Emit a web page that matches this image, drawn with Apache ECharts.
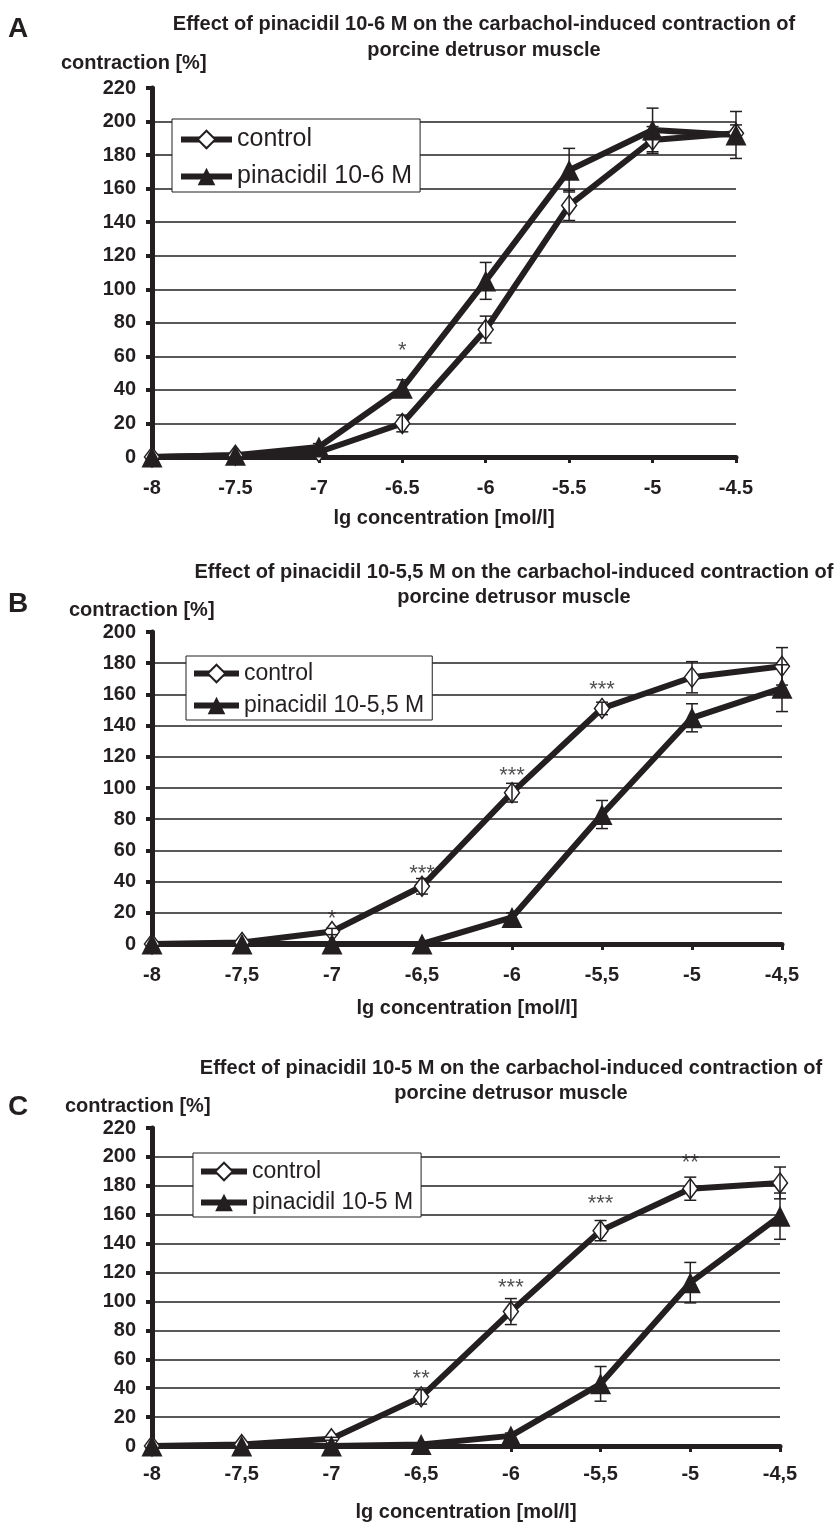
<!DOCTYPE html>
<html>
<head>
<meta charset="utf-8">
<script src="https://cdn.jsdelivr.net/npm/echarts@6/dist/echarts.min.js"></script>
<style>
  html, body { margin: 0; padding: 0; background: #fff; }
  #main { width: 834px; height: 1523px; }
</style>
</head>
<body>
<div id="main"></div>
<script>
// x categories (lg concentration)
const catsA = ["-8", "-7.5", "-7", "-6.5", "-6", "-5.5", "-5", "-4.5"];
const catsBC = ["-8", "-7,5", "-7", "-6,5", "-6", "-5,5", "-5", "-4,5"];

// panel A: pinacidil 10-6 M
const ctrlA = [0, 1, 3, 20, 76, 150, 189, 193];
const pinA = [0, 1, 6, 41, 105, 171, 195, 192];
const ctrlErrA = [0, 0, 1, 5, 8, 9, 8, 5];
const pinErrA = [0, 0, 2, 5, 11, 13, 13, 14];
const starsA = [[3, 66, "*"]];

// panel B: pinacidil 10-5,5 M
const ctrlB = [0, 1, 8, 37, 97, 151, 171, 178];
const pinB = [0, 0, 0, 0, 17, 83, 145, 164];
const ctrlErrB = [0, 0, 2, 5, 6, 4, 10, 12];
const pinErrB = [0, 0, 0, 0, 3, 9, 9, 15];
const starsB = [[2, 19, "*"], [3, 48, "***"], [4, 111, "***"], [5, 166, "***"]];

// panel C: pinacidil 10-5 M
const ctrlC = [0, 1, 5, 34, 93, 149, 178, 182];
const pinC = [0, 0, 0, 1, 7, 43, 113, 159];
const ctrlErrC = [0, 0, 1, 5, 9, 7, 8, 11];
const pinErrC = [0, 0, 0, 0, 2, 12, 14, 16];
const starsC = [[3, 50, "**"], [4, 113, "***"], [5, 171, "***"], [6, 199, "**"]];

const ink = "#231f20";
const font = "Liberation Sans";

function errorBar(params, api) {
  const x = api.value(0), y = api.value(1), e = api.value(2);
  if (!e) return null;
  const hi = api.coord([x, y + e]);
  const lo = api.coord([x, y - e]);
  const w = 6;
  const st = { stroke: ink, lineWidth: 1.5 };
  return {
    type: "group",
    children: [
      { type: "line", shape: { x1: hi[0], y1: hi[1], x2: lo[0], y2: lo[1] }, style: st },
      { type: "line", shape: { x1: hi[0] - w, y1: hi[1], x2: hi[0] + w, y2: hi[1] }, style: st },
      { type: "line", shape: { x1: lo[0] - w, y1: lo[1], x2: lo[0] + w, y2: lo[1] }, style: st },
    ],
  };
}

function panelSeries(i, ctrl, pin, ctrlErr, pinErr, stars, pinName) {
  const errData = [];
  ctrl.forEach((v, k) => errData.push([k, v, ctrlErr[k]]));
  pin.forEach((v, k) => errData.push([k, v, pinErr[k]]));
  return [
    {
      name: "control",
      type: "line",
      xAxisIndex: i,
      yAxisIndex: i,
      data: ctrl,
      clip: false,
      symbol: "diamond",
      symbolSize: [15, 20],
      showAllSymbol: true,
      lineStyle: { width: 6, color: ink },
      itemStyle: { color: "#fff", borderColor: ink, borderWidth: 1.5 },
      z: 3,
    },
    {
      name: pinName,
      type: "line",
      xAxisIndex: i,
      yAxisIndex: i,
      data: pin,
      clip: false,
      symbol: "triangle",
      symbolSize: 21,
      showAllSymbol: true,
      lineStyle: { width: 6, color: ink },
      itemStyle: { color: ink },
      z: 3,
    },
    {
      type: "custom",
      xAxisIndex: i,
      yAxisIndex: i,
      data: errData,
      renderItem: errorBar,
      clip: false,
      z: 4,
    },
    {
      type: "scatter",
      xAxisIndex: i,
      yAxisIndex: i,
      data: stars,
      symbolSize: 0,
      label: {
        show: true,
        position: "inside",
        offset: [0, 5],
        formatter: (p) => p.data[2],
        fontSize: 22,
        fontFamily: font,
        color: ink,
      },
      z: 5,
    },
  ];
}

function xAxisFor(i, cats, nameGap, margin) {
  return {
    gridIndex: i,
    type: "category",
    data: cats,
    boundaryGap: false,
    axisLine: { lineStyle: { color: ink, width: 5 } },
    axisTick: { show: true, interval: 0, length: 6, lineStyle: { color: ink, width: 3 } },
    axisLabel: { interval: 0, margin: margin, fontSize: 20, fontWeight: "bold", color: ink, fontFamily: font },
    splitLine: { show: false },
    name: "lg concentration [mol/l]",
    nameLocation: "middle",
    nameGap: nameGap,
    nameTextStyle: { fontSize: 20, fontWeight: "bold", color: ink, fontFamily: font },
  };
}

function yAxisFor(i, max) {
  return {
    gridIndex: i,
    type: "value",
    min: 0,
    max: max,
    interval: 20,
    axisLine: { show: true, lineStyle: { color: ink, width: 5 } },
    axisTick: { show: true, length: 6, lineStyle: { color: ink, width: 4 } },
    axisLabel: { margin: 16, fontSize: 20, fontWeight: "bold", color: ink, fontFamily: font },
    splitLine: { show: true, showMaxLine: false, lineStyle: { color: ink, width: 1.5 } },
  };
}

function legendFor(left, top, names, fontSize, itemWidth, itemGap, padding) {
  return {
    orient: "vertical",
    left: left,
    top: top,
    data: names,
    itemWidth: itemWidth,
    itemHeight: 22,
    itemGap: itemGap,
    padding: padding,
    borderColor: ink,
    borderWidth: 1,
    backgroundColor: "#fff",
    selectedMode: false,
    lineStyle: { width: 6, color: ink },
    textStyle: { fontSize: fontSize, color: ink, fontFamily: font },
  };
}

function textBox(text, left, top, size, align, lineHeight) {
  return {
    text: text,
    left: left,
    top: top,
    padding: 0,
    textAlign: align,
    textStyle: { fontSize: size, fontWeight: "bold", color: ink, fontFamily: font, lineHeight: lineHeight },
  };
}

const chart = echarts.init(document.getElementById("main"));
chart.setOption({
  animation: false,
  backgroundColor: "#fff",
  textStyle: { fontFamily: font },
  title: [
    textBox("A", 8, 15, 28, "left", 28),
    textBox("Effect of pinacidil 10-6 M on the carbachol-induced contraction of\nporcine detrusor muscle", 484, 11, 20, "center", 26),
    textBox("contraction [%]", 61, 53, 20, "left", 20),
    textBox("B", 8, 590, 28, "left", 28),
    textBox("Effect of pinacidil 10-5,5 M on the carbachol-induced contraction of\nporcine detrusor muscle", 514, 560, 20, "center", 25),
    textBox("contraction [%]", 69, 600, 20, "left", 20),
    textBox("C", 8, 1093, 28, "left", 28),
    textBox("Effect of pinacidil 10-5 M on the carbachol-induced contraction of\nporcine detrusor muscle", 511, 1056, 20, "center", 25),
    textBox("contraction [%]", 65, 1096, 20, "left", 20),
  ],
  legend: [
    legendFor(172, 119, ["control", "pinacidil 10-6 M"], 25, 51, 12, [8, 8, 3, 6]),
    legendFor(186, 656, ["control", "pinacidil 10-5,5 M"], 23, 45, 9, [6, 8, 3, 5]),
    legendFor(193, 1153, ["control", "pinacidil 10-5 M"], 23, 46, 8, [7, 8, 3, 5]),
  ],
  grid: [
    { left: 152, top: 88, width: 584, height: 369 },
    { left: 152, top: 632, width: 630, height: 312 },
    { left: 152, top: 1128, width: 628, height: 321 },
  ],
  xAxis: [
    xAxisFor(0, catsA, 51, 21),
    xAxisFor(1, catsBC, 54, 21),
    xAxisFor(2, catsBC, 56, 18),
  ],
  yAxis: [yAxisFor(0, 220), yAxisFor(1, 200), yAxisFor(2, 220)],
  series: [
    ...panelSeries(0, ctrlA, pinA, ctrlErrA, pinErrA, starsA, "pinacidil 10-6 M"),
    ...panelSeries(1, ctrlB, pinB, ctrlErrB, pinErrB, starsB, "pinacidil 10-5,5 M"),
    ...panelSeries(2, ctrlC, pinC, ctrlErrC, pinErrC, starsC, "pinacidil 10-5 M"),
  ],
});
</script>
</body>
</html>
